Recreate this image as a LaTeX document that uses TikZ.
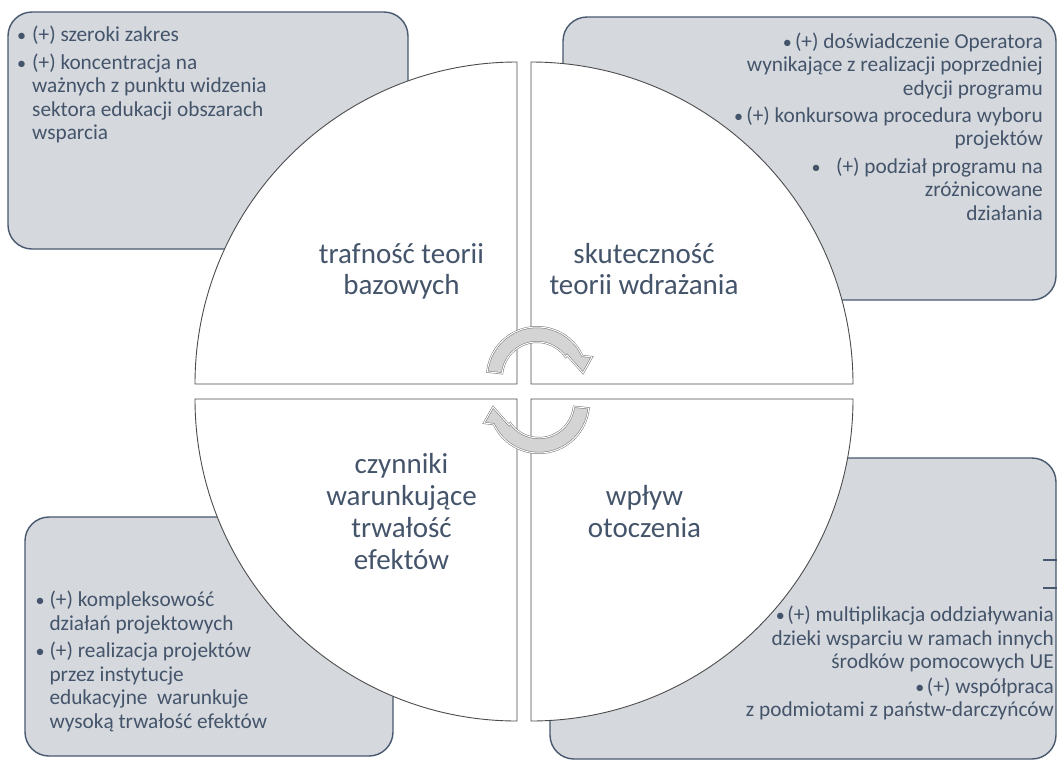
\documentclass[tikz,border=0pt]{standalone}
\usepackage{fontspec}
\setmainfont{Carlito}
\definecolor{txt}{RGB}{68,84,106}
\definecolor{boxfill}{RGB}{213,216,221}
\definecolor{boxline}{RGB}{72,88,110}
\newcommand\mybul[1]{\makebox[#1pt][c]{\scalebox{0.85}{•}}}
\begin{document}
\begin{tikzpicture}[x=1pt,y=1pt,
  infobox/.style={fill=boxfill, draw=boxline, line width=1.4pt, rounded corners=24pt},
  quad/.style={fill=white, draw=black!70, line width=0.9pt},
  carrow/.style={fill=black!17, draw=black!55, double=white, double distance=1pt, line width=0.5pt},
  boxtext/.style={font=\fontsize{21.3}{23.5}\selectfont, text=txt, inner sep=0pt},
  qlabel/.style={font=\fontsize{29}{31}\selectfont, text=txt, inner sep=0pt, anchor=base}]
\useasboundingbox (0,0) rectangle (1057,-761);

% information boxes
\draw[infobox] (8,-12) rectangle (408,-249);
\draw[infobox] (563,-17) rectangle (1056,-300);
\draw[infobox] (25,-517) rectangle (393,-756);
\draw[infobox] (550,-458) rectangle (1056,-759);
\coordinate (m1a) at (1043,-560); \coordinate (m1b) at (1057,-560);
\coordinate (m2a) at (1043,-588); \coordinate (m2b) at (1057,-588);
\draw[boxline, line width=1.2pt] (m1a) -- (m1b);
\draw[boxline, line width=1.2pt] (m2a) -- (m2b);

% quadrants
\draw[quad] (517,-384) -- (195,-384) arc[start angle=180, end angle=90, radius=322] -- cycle;
\draw[quad] (531,-384) -- (531,-62) arc[start angle=90, end angle=0, radius=322] -- cycle;
\draw[quad] (517,-399) -- (517,-721) arc[start angle=270, end angle=180, radius=322] -- cycle;
\draw[quad] (531,-399) -- (853,-399) arc[start angle=0, end angle=-90, radius=322] -- cycle;

% circular arrows
\filldraw[carrow] (487.27,-371.77) arc[start angle=174, end angle=25, radius=50]
  -- (592,-357) -- (583,-373) -- (567,-355) -- (565.67,-356.92)
  arc[start angle=35, end angle=174, radius=35] -- cycle;
\filldraw[carrow] (588.73,-408.23) arc[start angle=354, end angle=205, radius=50]
  -- (484,-423) -- (493,-407) -- (509,-425) -- (510.33,-423.08)
  arc[start angle=215, end angle=354, radius=35] -- cycle;

% quadrant labels
\foreach \yA/\tA [count=\i] in {263/trafność teorii, 294/bazowych}
  \node[qlabel] (qa\i) at (401.5,-\yA) {\tA};
\foreach \yA/\tA [count=\i] in {263/skuteczność, 294/teorii wdrażania}
  \node[qlabel] (qb\i) at (644,-\yA) {\tA};
\foreach \yA/\tA [count=\i] in {473/czynniki, 505/warunkujące, 537/trwałość, 569/efektów}
  \node[qlabel] (qc\i) at (401.5,-\yA) {\tA};
\foreach \yA/\tA [count=\i] in {505/wpływ, 537/otoczenia}
  \node[qlabel] (qd\i) at (644.5,-\yA) {\tA};

% top-left box text
\foreach \xA/\yA/\tA [count=\i] in {10.8/41/{\mybul{21.2}(+) szeroki zakres},
    10.8/69/{\mybul{21.2}(+) koncentracja na},
    32/92.5/{ważnych z punktu widzenia},
    32/116/{sektora edukacji obszarach},
    32/139.5/{wsparcia}}
  \node[boxtext, anchor=base west] (ta\i) at (\xA,-\yA) {\tA};

% top-right box text
\foreach \yA/\tA [count=\i] in {48/{\mybul{15.4}(+) doświadczenie Operatora},
    71.5/{wynikające z realizacji poprzedniej},
    95/{edycji programu},
    122/{\mybul{15.4}(+) konkursowa procedura wyboru},
    145.5/{projektów},
    173/{\mybul{40}(+) podział programu na},
    196.5/{zróżnicowane},
    220/{działania}}
  \node[boxtext, anchor=base east] (tb\i) at (1043,-\yA) {\tA};

% bottom-left box text
\foreach \xA/\yA/\tA [count=\i] in {30.7/606.5/{\mybul{18.6}(+) kompleksowość},
    49.3/630/{działań projektowych},
    30.7/657.5/{\mybul{18.6}(+) realizacja projektów},
    49.3/681/{przez instytucje},
    49.3/704.5/{edukacyjne~ warunkuje},
    49.3/728/{wysoką trwałość efektów}}
  \node[boxtext, anchor=base west] (tc\i) at (\xA,-\yA) {\tA};

% bottom-right box text
\foreach \yA/\tA [count=\i] in {621.5/{\mybul{14}(+) multiplikacja oddziaływania},
    645/{dzieki wsparciu w ramach innych},
    668.5/{środków pomocowych UE},
    693/{\mybul{14}(+) współpraca},
    716.5/{z podmiotami z państw-darczyńców}}
  \node[boxtext, anchor=base east] (td\i) at (1054,-\yA) {\tA};
\end{tikzpicture}
\end{document}
